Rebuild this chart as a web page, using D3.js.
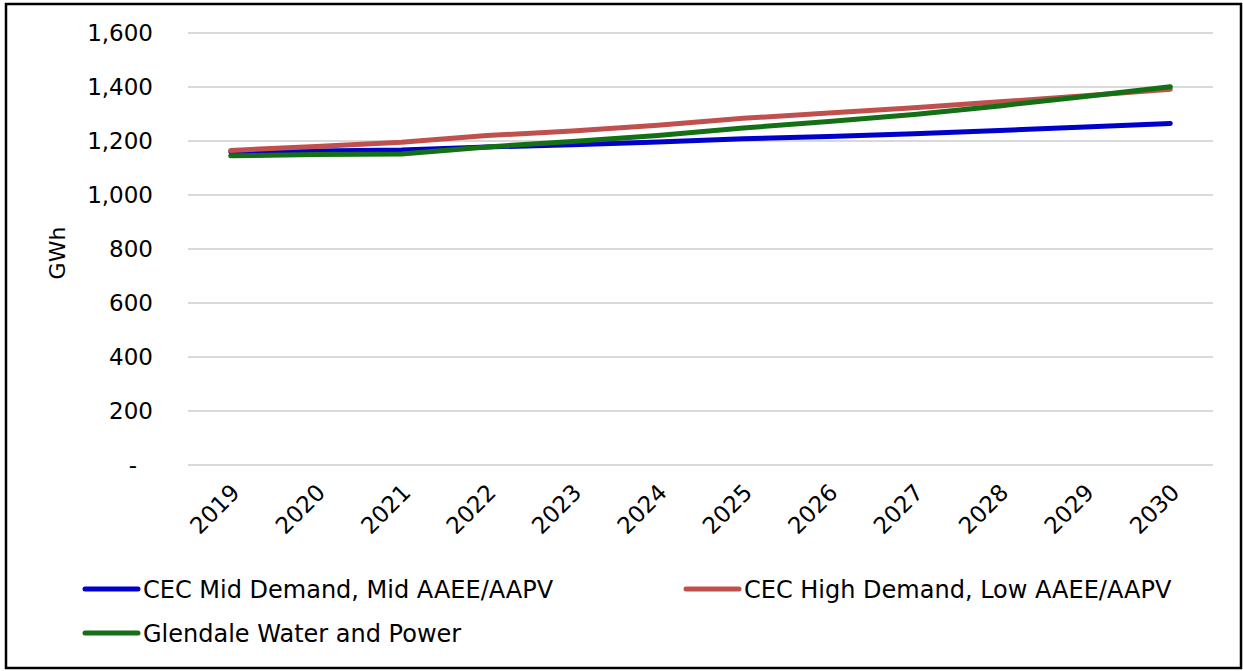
<!DOCTYPE html>
<html>
<head>
<meta charset="utf-8">
<script src="https://cdn.jsdelivr.net/npm/d3@7"></script>
<style>
  body { margin: 0; background: #fff; }
  svg { display: block; font-family: "DejaVu Sans", sans-serif; }
</style>
</head>
<body>
<div id="grafico"></div>
<script>
const years = ["2019", "2020", "2021", "2022", "2023", "2024", "2025", "2026", "2027", "2028", "2029", "2030"];
const midDemand  = [1160, 1163, 1167, 1178, 1186, 1196, 1208, 1217, 1227, 1239, 1252, 1265];
const highDemand = [1165, 1180, 1195, 1220, 1237, 1258, 1284, 1304, 1323, 1345, 1368, 1392];
const gwp        = [1145, 1150, 1152, 1178, 1198, 1220, 1248, 1272, 1298, 1330, 1365, 1401];
const yTicks = [0, 200, 400, 600, 800, 1000, 1200, 1400, 1600];

const series = [
    {name: "CEC Mid Demand, Mid AAEE/AAPV", values: midDemand, color: "#0000cc"},
    {name: "CEC High Demand, Low AAEE/AAPV", values: highDemand, color: "#c0504d"},
    {name: "Glendale Water and Power", values: gwp, color: "#147014"}
];

const W = 1243, H = 671;
const margin = { top: 33, left: 188, bottom: 206, right: 30 };
const width  = 1213 - margin.left;
const height = 465 - margin.top;

const root = d3.select("#grafico")
               .append("svg")
               .attr("width", W)
               .attr("height", H);

// outer frame
root.append("rect")
    .attr("x", 6).attr("y", 4)
    .attr("width", 1235).attr("height", 664)
    .attr("fill", "none")
    .attr("stroke", "#000")
    .attr("stroke-width", 2.5);

const svg = root.append("g")
                .attr("transform", `translate(${margin.left}, ${margin.top})`);

const xScale = d3.scalePoint()
                 .domain(years)
                 .range([0, width])
                 .padding(0.5);

const yScale = d3.scaleLinear()
                 .domain([0, 1600])
                 .range([height, 0]);

// gridlines
svg.append("g")
   .selectAll("line")
   .data(yTicks)
   .join("line")
   .attr("x1", 0)
   .attr("x2", width)
   .attr("y1", d => yScale(d))
   .attr("y2", d => yScale(d))
   .attr("stroke", "#d9d9d9")
   .attr("stroke-width", 2);

// y axis
const yAxis = svg.append("g")
   .call(d3.axisLeft(yScale)
           .tickValues(yTicks)
           .tickSize(0)
           .tickPadding(35)
           .tickFormat(d => d === 0 ? "-" : d3.format(",")(d)));
yAxis.select(".domain").remove();
yAxis.selectAll("text")
     .attr("font-size", 23)
     .attr("font-family", "DejaVu Sans, sans-serif")
     .attr("fill", "#000")
     .attr("dx", d => d === 0 ? -16 : 0);

svg.append("text")
   .attr("transform", `translate(${65 - margin.left}, ${253 - margin.top}) rotate(-90)`)
   .attr("text-anchor", "middle")
   .attr("font-size", 22)
   .attr("fill", "#000")
   .text("GWh");

// x axis
const xAxis = svg.append("g")
   .attr("transform", `translate(0, ${height})`)
   .call(d3.axisBottom(xScale).tickSize(0).tickPadding(0));
xAxis.select(".domain").remove();
xAxis.selectAll("text")
     .attr("font-size", 23)
     .attr("font-family", "DejaVu Sans, sans-serif")
     .attr("fill", "#000")
     .attr("text-anchor", "end")
     .attr("dy", null)
     .attr("y", 0)
     .attr("transform", "translate(10, 29) rotate(-45)");

// lines
const line = d3.line()
               .x((d, i) => xScale(years[i]))
               .y(d => yScale(d));

svg.selectAll("path.series")
   .data(series)
   .join("path")
   .attr("class", "series")
   .attr("d", d => line(d.values))
   .attr("fill", "none")
   .attr("stroke", d => d.color)
   .attr("stroke-width", 5)
   .attr("stroke-linecap", "round")
   .attr("stroke-linejoin", "round");

// legend
const legendPos = [
    {x: 85, y: 589},
    {x: 686, y: 589},
    {x: 85, y: 633}
];

const legend = root.append("g")
                   .selectAll("g")
                   .data(series)
                   .join("g")
                   .attr("transform", (d, i) => `translate(${legendPos[i].x}, ${legendPos[i].y})`);

legend.append("line")
      .attr("x1", 0).attr("x2", 53)
      .attr("y1", 0).attr("y2", 0)
      .attr("stroke", d => d.color)
      .attr("stroke-width", 5)
      .attr("stroke-linecap", "round");

legend.append("text")
      .attr("x", 58)
      .attr("y", 9)
      .attr("font-size", 24)
      .attr("fill", "#000")
      .text(d => d.name);
</script>
</body>
</html>
